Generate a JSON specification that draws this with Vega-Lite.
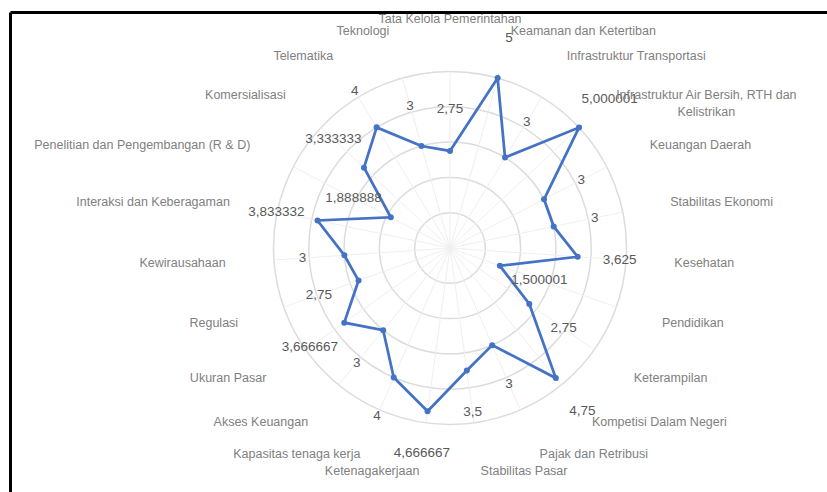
{
  "$schema": "https://vega.github.io/schema/vega-lite/v6.json",
  "width": 817,
  "height": 480,
  "padding": {"left": 10, "top": 12, "right": 0, "bottom": 0},
  "autosize": {"type": "none"},
  "background": "white",
  "config": {"view": {"stroke": null}, "font": "Liberation Sans"},
  "datasets": {
    "cats": [
      {"idx": 0, "kategori": "Tata Kelola Pemerintahan", "nilai": 2.75, "label": "2,75"},
      {"idx": 1, "kategori": "Keamanan dan Ketertiban", "nilai": 5, "label": "5"},
      {"idx": 2, "kategori": "Infrastruktur Transportasi", "nilai": 3, "label": "3"},
      {"idx": 3, "kategori": "Infrastruktur Air Bersih, RTH dan\nKelistrikan", "nilai": 5.000001, "label": "5,000001"},
      {"idx": 4, "kategori": "Keuangan Daerah", "nilai": 3, "label": "3"},
      {"idx": 5, "kategori": "Stabilitas Ekonomi", "nilai": 3, "label": "3"},
      {"idx": 6, "kategori": "Kesehatan", "nilai": 3.625, "label": "3,625"},
      {"idx": 7, "kategori": "Pendidikan", "nilai": 1.500001, "label": "1,500001"},
      {"idx": 8, "kategori": "Keterampilan", "nilai": 2.75, "label": "2,75"},
      {"idx": 9, "kategori": "Kompetisi Dalam Negeri", "nilai": 4.75, "label": "4,75"},
      {"idx": 10, "kategori": "Pajak dan Retribusi", "nilai": 3, "label": "3"},
      {"idx": 11, "kategori": "Stabilitas Pasar", "nilai": 3.5, "label": "3,5"},
      {"idx": 12, "kategori": "Ketenagakerjaan", "nilai": 4.666667, "label": "4,666667"},
      {"idx": 13, "kategori": "Kapasitas tenaga kerja", "nilai": 4, "label": "4"},
      {"idx": 14, "kategori": "Akses Keuangan", "nilai": 3, "label": "3"},
      {"idx": 15, "kategori": "Ukuran Pasar", "nilai": 3.666667, "label": "3,666667"},
      {"idx": 16, "kategori": "Regulasi", "nilai": 2.75, "label": "2,75"},
      {"idx": 17, "kategori": "Kewirausahaan", "nilai": 3, "label": "3"},
      {"idx": 18, "kategori": "Interaksi dan Keberagaman", "nilai": 3.833332, "label": "3,833332"},
      {"idx": 19, "kategori": "Penelitian dan Pengembangan (R & D)", "nilai": 1.888888, "label": "1,888888"},
      {"idx": 20, "kategori": "Komersialisasi", "nilai": 3.333333, "label": "3,333333"},
      {"idx": 21, "kategori": "Telematika", "nilai": 4, "label": "4"},
      {"idx": 22, "kategori": "Teknologi", "nilai": 3, "label": "3"}
    ],
    "grid": [{"level": 1}, {"level": 2}, {"level": 3}, {"level": 4}, {"level": 5}]
  },
  "encoding": {
    "x": {"field": "X", "type": "quantitative", "scale": {"domain": [-12.465, 10.68], "nice": false, "zero": false},
      "axis": {"orient": "top", "domainColor": "#000000", "domainWidth": 3, "ticks": false, "labels": false, "grid": false, "title": null}},
    "y": {"field": "Y", "type": "quantitative", "scale": {"domain": [-6.912, 6.686], "nice": false, "zero": false},
      "axis": {"orient": "left", "domainColor": "#000000", "domainWidth": 3, "ticks": false, "labels": false, "grid": false, "title": null}}
  },
  "layer": [
    {
      "data": {"name": "grid"},
      "transform": [{"calculate": "0", "as": "X"}, {"calculate": "0", "as": "Y"}],
      "mark": {"type": "point", "shape": "circle", "filled": false, "stroke": "#dcdcdc", "strokeWidth": 1.5, "opacity": 1},
      "encoding": {
        "size": {"field": "level", "type": "quantitative", "scale": {"type": "pow", "exponent": 2, "domain": [0, 5], "range": [0, 124609]}, "legend": null}
      }
    },
    {
      "data": {"name": "cats"},
      "transform": [
        {"calculate": "datum.idx * 2 * PI / 23", "as": "a"},
        {"calculate": "0", "as": "X"}, {"calculate": "0", "as": "Y"},
        {"calculate": "5 * sin(datum.a)", "as": "X2"}, {"calculate": "5 * cos(datum.a)", "as": "Y2"}
      ],
      "mark": {"type": "rule", "color": "#efefef", "strokeWidth": 1},
      "encoding": {"x2": {"field": "X2"}, "y2": {"field": "Y2"}}
    },
    {
      "data": {"name": "cats"},
      "transform": [
        {"calculate": "datum.idx * 2 * PI / 23", "as": "a"},
        {"calculate": "datum.nilai * sin(datum.a)", "as": "X"},
        {"calculate": "datum.nilai * cos(datum.a)", "as": "Y"}
      ],
      "mark": {"type": "line", "interpolate": "linear-closed", "color": "#4472C4", "strokeWidth": 2.75,
        "point": {"filled": true, "size": 36, "color": "#4472C4"}},
      "encoding": {"order": {"field": "idx", "type": "quantitative"}}
    },
    {
      "data": {"name": "cats"},
      "transform": [
        {"calculate": "datum.idx * 2 * PI / 23", "as": "a"},
        {"calculate": "(datum.nilai + 1.19) * sin(datum.a)", "as": "X"},
        {"calculate": "(datum.nilai + 1.19) * cos(datum.a)", "as": "Y"}
      ],
      "mark": {"type": "text", "fontSize": 13.5, "color": "#595959", "align": "center", "baseline": "middle"},
      "encoding": {"text": {"field": "label"}}
    },
    {
      "data": {"name": "cats"},
      "transform": [
        {"filter": "datum.idx >= 1 && datum.idx <= 11 && datum.idx != 3"},
        {"calculate": "datum.idx * 2 * PI / 23", "as": "a"},
        {"calculate": "6.37 * sin(datum.a)", "as": "X"},
        {"calculate": "6.37 * cos(datum.a)", "as": "Y"}
      ],
      "mark": {"type": "text", "fontSize": 12.5, "color": "#808080", "align": "left", "baseline": "middle"},
      "encoding": {"text": {"field": "kategori"}}
    },
    {
      "data": {"name": "cats"},
      "transform": [
        {"filter": "datum.idx >= 12"},
        {"calculate": "datum.idx * 2 * PI / 23", "as": "a"},
        {"calculate": "6.37 * sin(datum.a)", "as": "X"},
        {"calculate": "6.37 * cos(datum.a)", "as": "Y"}
      ],
      "mark": {"type": "text", "fontSize": 12.5, "color": "#808080", "align": "right", "baseline": "middle"},
      "encoding": {"text": {"field": "kategori"}}
    },
    {
      "data": {"name": "cats"},
      "transform": [
        {"filter": "datum.idx == 0"},
        {"calculate": "datum.idx * 2 * PI / 23", "as": "a"},
        {"calculate": "6.5 * sin(datum.a)", "as": "X"},
        {"calculate": "6.5 * cos(datum.a)", "as": "Y"}
      ],
      "mark": {"type": "text", "fontSize": 12.5, "color": "#808080", "align": "center", "baseline": "middle"},
      "encoding": {"text": {"field": "kategori"}}
    },
    {
      "data": {"name": "cats"},
      "transform": [
        {"filter": "datum.idx == 3"},
        {"calculate": "datum.idx * 2 * PI / 23", "as": "a"},
        {"calculate": "6.37 * sin(datum.a)", "as": "X"},
        {"calculate": "6.37 * cos(datum.a)", "as": "Y"}
      ],
      "mark": {"type": "text", "fontSize": 12.5, "color": "#808080", "align": "center", "baseline": "middle", "lineBreak": "\n", "dx": 92, "lineHeight": 17},
      "encoding": {"text": {"field": "kategori"}}
    }
  ]
}
